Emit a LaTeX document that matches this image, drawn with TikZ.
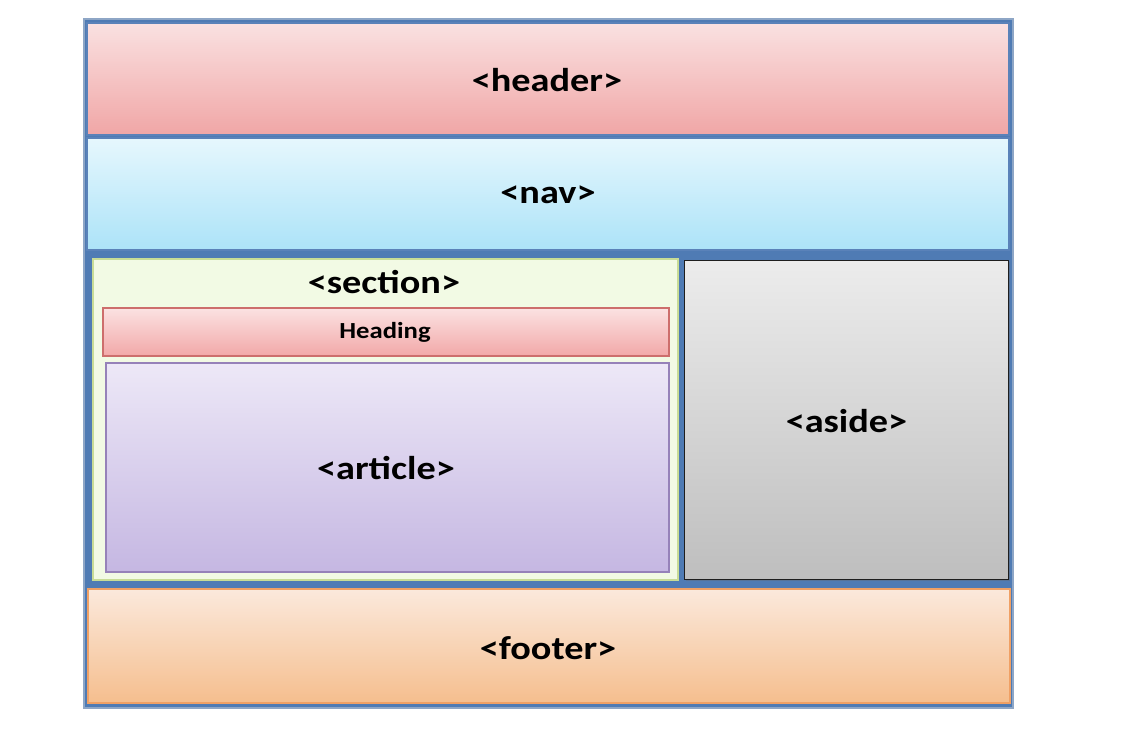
\documentclass[tikz,border=0pt]{standalone}
\usepackage{fontspec}
\setmainfont{Carlito}
\usetikzlibrary{shadows}
\definecolor{outerblue}{HTML}{4F7BB4}
\definecolor{outerline}{HTML}{8EA6C6}
\definecolor{blueline}{RGB}{90,130,185}
\definecolor{hdrtop}{RGB}{250,225,225}
\definecolor{hdrbot}{RGB}{240,166,166}
\definecolor{navtop}{RGB}{230,247,253}
\definecolor{navbot}{RGB}{172,227,248}
\definecolor{secline}{RGB}{200,220,150}
\definecolor{secfill}{RGB}{242,250,228}
\definecolor{hdgline}{RGB}{205,110,108}
\definecolor{hdgtop}{RGB}{251,226,226}
\definecolor{hdgbot}{RGB}{242,168,168}
\definecolor{artline}{RGB}{150,130,185}
\definecolor{arttop}{RGB}{237,232,247}
\definecolor{artbot}{RGB}{197,183,226}
\definecolor{asdline}{RGB}{30,30,30}
\definecolor{asdtop}{RGB}{236,236,236}
\definecolor{asdbot}{RGB}{190,190,190}
\definecolor{ftrline}{RGB}{240,160,100}
\definecolor{ftrtop}{RGB}{251,233,220}
\definecolor{ftrbot}{RGB}{245,190,142}
\newcommand{\wide}[1]{\scalebox{1.16}[1]{#1}}
\tikzset{
  box/.style={rectangle, inner sep=0pt, outer sep=0pt, line width=1.2pt},
  lbl/.style={font=\bfseries\fontsize{33}{36}\selectfont, text=black, inner sep=0pt},
  shad/.style={drop shadow={shadow xshift=1.2pt, shadow yshift=-1.2pt, opacity=0.35, fill=black!60}},
}
\begin{document}
\begin{tikzpicture}[x=1pt, y=-1pt]
\useasboundingbox (0,0) rectangle (1138,743);
\fill[white] (0,0) rectangle (1138,743);
\node[box, draw=outerline, fill=outerblue, minimum width=929pt, minimum height=689pt] (outer) at (548.5,363.5) {};
\node[box, shad, draw=blueline, top color=hdrtop, bottom color=hdrbot, minimum width=922pt, minimum height=112pt] (header) at (548,79) {};
\node[lbl] (headerlbl) at (547,80) {\wide{<header>}};
\node[box, shad, draw=blueline, top color=navtop, bottom color=navbot, minimum width=922pt, minimum height=112pt] (nav) at (548,194) {};
\node[lbl] (navlbl) at (548,195) {\wide{<nav>}};
\node[box, shad, draw=secline, fill=secfill, line width=2pt, minimum width=585pt, minimum height=320pt] (section) at (385,419.5) {};
\node[lbl] (sectionlbl) at (384,282) {\wide{<section>}};
\node[box, shad, draw=hdgline, top color=hdgtop, bottom color=hdgbot, minimum width=566pt, minimum height=48pt] (heading) at (386,332) {};
\node[font=\bfseries\fontsize{23}{26}\selectfont, inner sep=0pt] (headinglbl) at (385,332) {\wide{Heading}};
\node[box, shad, draw=artline, top color=arttop, bottom color=artbot, minimum width=563pt, minimum height=209pt] (article) at (387.5,467.5) {};
\node[lbl] (articlelbl) at (386,468) {\wide{<article>}};
\node[box, shad, draw=asdline, top color=asdtop, bottom color=asdbot, line width=1.6pt, minimum width=324pt, minimum height=319pt] (aside) at (846.5,420) {};
\node[lbl] (asidelbl) at (846.5,421) {\wide{<aside>}};
\node[box, shad, draw=ftrline, top color=ftrtop, bottom color=ftrbot, minimum width=922pt, minimum height=114pt] (footer) at (549,646) {};
\node[lbl] (footerlbl) at (548,648) {\wide{<footer>}};
\end{tikzpicture}
\end{document}
